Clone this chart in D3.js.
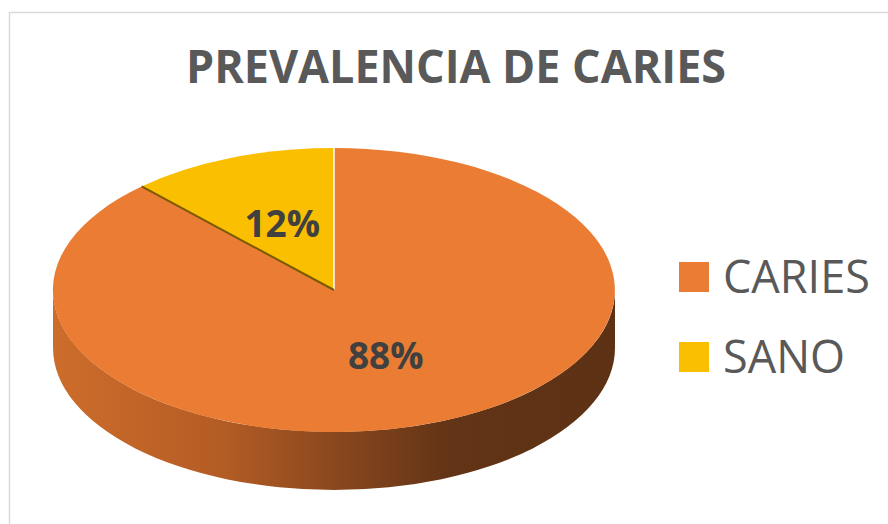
<!DOCTYPE html>
<html>
<head>
<meta charset="utf-8">
<script src="https://cdnjs.cloudflare.com/ajax/libs/d3/7.8.5/d3.min.js"></script>
<style>
  body { margin: 0; background: #fff; }
  svg { display: block; }
</style>
</head>
<body>
<div id="pie-chart"></div>
<script>
(function() {
  var width = 888, height = 524;

  // data
  var categories = ["CARIES", "SANO"];
  var values = [88, 12];
  var labels = ["88%", "12%"];
  var colors = ["#EA7D33", "#FABF00"];
  var title = "PREVALENCIA DE CARIES";

  // pie geometry (top face is an ellipse, side is the front half)
  var cx = 334, cy = 290, rx = 281, ry = 142, depth = 58;

  var svg = d3.select("#pie-chart")
    .append("svg")
    .attr("width", width)
    .attr("height", height);

  // chart frame
  svg.append("rect")
    .attr("x", 9.5).attr("y", 12.5)
    .attr("width", 900).attr("height", 600)
    .attr("fill", "none")
    .attr("stroke", "#D9D9D9")
    .attr("stroke-width", 1.5);

  // title
  var t = svg.append("text")
    .attr("x", 456).attr("y", 83)
    .attr("text-anchor", "middle")
    .style("font-family", "Open Sans")
    .style("font-weight", "bold")
    .style("font-size", "46px")
    .attr("fill", "#595959")
    .text(title);
  t.attr("textLength", 540).attr("lengthAdjust", "spacingAndGlyphs");

  var defs = svg.append("defs");
  var grad = defs.append("linearGradient")
    .attr("id", "side-grad")
    .attr("gradientUnits", "userSpaceOnUse")
    .attr("x1", cx - rx).attr("x2", cx + rx)
    .attr("y1", 0).attr("y2", 0);
  [[0, "#CD6D2B"], [0.3, "#B45C25"], [0.5, "#8A481E"], [0.7, "#633416"], [1, "#5D3114"]]
    .forEach(function(s) {
      grad.append("stop").attr("offset", s[0]).attr("stop-color", s[1]);
    });

  var pie = d3.pie().sort(null).value(function(d) { return d; });
  var arcs = pie(values);

  // point on the projected ellipse, angle clockwise from 12 o'clock
  function px(a) { return cx + rx * Math.sin(a); }
  function py(a) { return cy - ry * Math.cos(a); }

  // side walls, only the front half (pi/2 .. 3pi/2) is visible
  var sides = svg.append("g").attr("class", "sides");
  arcs.forEach(function(d, i) {
    var a0 = Math.max(d.startAngle, Math.PI / 2),
        a1 = Math.min(d.endAngle, 3 * Math.PI / 2);
    if (a1 <= a0) return;
    var large = (a1 - a0) > Math.PI ? 1 : 0;
    var p = "M" + px(a0) + "," + py(a0)
      + "A" + rx + "," + ry + " 0 " + large + " 1 " + px(a1) + "," + py(a1)
      + "L" + px(a1) + "," + (py(a1) + depth)
      + "A" + rx + "," + ry + " 0 " + large + " 0 " + px(a0) + "," + (py(a0) + depth)
      + "Z";
    sides.append("path")
      .attr("d", p)
      .attr("fill", i === 0 ? "url(#side-grad)" : d3.color(colors[i]).darker(1.5));
  });

  // top face: unit arcs squashed into the ellipse
  var arc = d3.arc().innerRadius(0).outerRadius(1);
  var top = svg.append("g")
    .attr("transform", "translate(" + cx + "," + cy + ") scale(" + rx + "," + ry + ")");

  top.selectAll("path")
    .data(arcs)
    .enter().append("path")
    .attr("d", arc)
    .attr("fill", function(d, i) { return colors[i]; });

  // slice edges: white at 12 o'clock, dark shade along the SANO cut
  arcs.forEach(function(d, i) {
    svg.append("line")
      .attr("x1", cx).attr("y1", cy)
      .attr("x2", px(d.startAngle)).attr("y2", py(d.startAngle))
      .attr("stroke", i === 0 ? "#FFFFFF" : "#7A5A05")
      .attr("stroke-width", i === 0 ? 1.5 : 2);
  });

  // data labels at half radius
  svg.selectAll(".pct")
    .data(arcs)
    .enter().append("text")
    .attr("class", "pct")
    .attr("x", function(d) { return px((d.startAngle + d.endAngle) / 2 * 1) * 0.5 + cx * 0.5; })
    .attr("y", function(d) { return py((d.startAngle + d.endAngle) / 2) * 0.5 + cy * 0.5; })
    .attr("dy", "0.36em")
    .attr("text-anchor", "middle")
    .style("font-family", "Open Sans")
    .style("font-weight", "bold")
    .style("font-size", "37px")
    .attr("fill", "#404040")
    .text(function(d, i) { return labels[i]; });

  // legend
  var legendY = d3.scalePoint().domain(categories).range([277, 357]);
  var legend = svg.selectAll(".legend")
    .data(categories)
    .enter().append("g")
    .attr("class", "legend")
    .attr("transform", function(d) { return "translate(679," + legendY(d) + ")"; });

  legend.append("rect")
    .attr("x", 0).attr("y", -15)
    .attr("width", 30).attr("height", 30)
    .attr("fill", function(d, i) { return colors[i]; });

  legend.append("text")
    .attr("x", 44).attr("y", 16)
    .style("font-family", "Open Sans")
    .style("font-size", "45px")
    .attr("fill", "#595959")
    .text(function(d) { return d; });
})();
</script>
</body>
</html>
